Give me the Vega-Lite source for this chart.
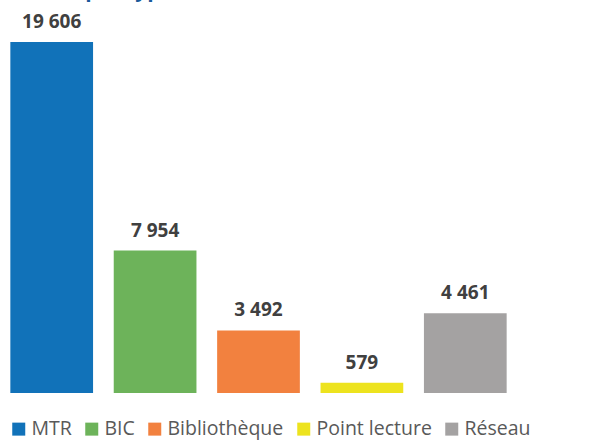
{
  "$schema": "https://vega.github.io/schema/vega-lite/v6.json",
  "width": 517,
  "height": 393,
  "autosize": {"type": "none"},
  "padding": {"left": 0, "top": 0, "right": 97, "bottom": 47},
  "title": {"text": "Prêts par type", "anchor": "start", "font": "Open Sans", "fontSize": 21, "fontWeight": "bold", "color": "#1a5a9a", "offset": -1, "dx": 25},
  "data": {"values": [
    {"type": "MTR", "value": 19606},
    {"type": "BIC", "value": 7954},
    {"type": "Bibliothèque", "value": 3492},
    {"type": "Point lecture", "value": 579},
    {"type": "Réseau", "value": 4461}
  ]},
  "encoding": {
    "x": {"field": "type", "type": "nominal", "sort": null, "axis": null, "scale": {"paddingInner": 0.2, "paddingOuter": 0.1}},
    "y": {"field": "value", "type": "quantitative", "axis": null, "scale": {"domain": [0, 21952], "nice": false}}
  },
  "layer": [
    {
      "mark": {"type": "bar"},
      "encoding": {
        "color": {"field": "type", "type": "nominal", "sort": null,
          "scale": {"domain": ["MTR", "BIC", "Bibliothèque", "Point lecture", "Réseau"], "range": ["#1172b9", "#6db35a", "#f2813f", "#ede31e", "#a4a2a2"]},
          "legend": {"orient": "none", "legendX": 9, "legendY": 419, "direction": "horizontal", "title": null, "symbolType": "square", "symbolSize": 169, "symbolStrokeWidth": 0, "labelFont": "Open Sans", "labelFontSize": 19.5, "labelColor": "#595959", "columnPadding": 10, "labelOffset": 3}
        }
      }
    },
    {
      "mark": {"type": "text", "baseline": "alphabetic", "dy": -14, "font": "Open Sans", "fontSize": 19, "fontWeight": "bold", "color": "#404040"},
      "encoding": {"text": {"field": "value", "type": "quantitative", "format": ",d"}}
    }
  ],
  "config": {
    "view": {"stroke": null},
    "locale": {"number": {"decimal": ",", "thousands": " ", "grouping": [3], "currency": ["", " €"]}}
  }
}
